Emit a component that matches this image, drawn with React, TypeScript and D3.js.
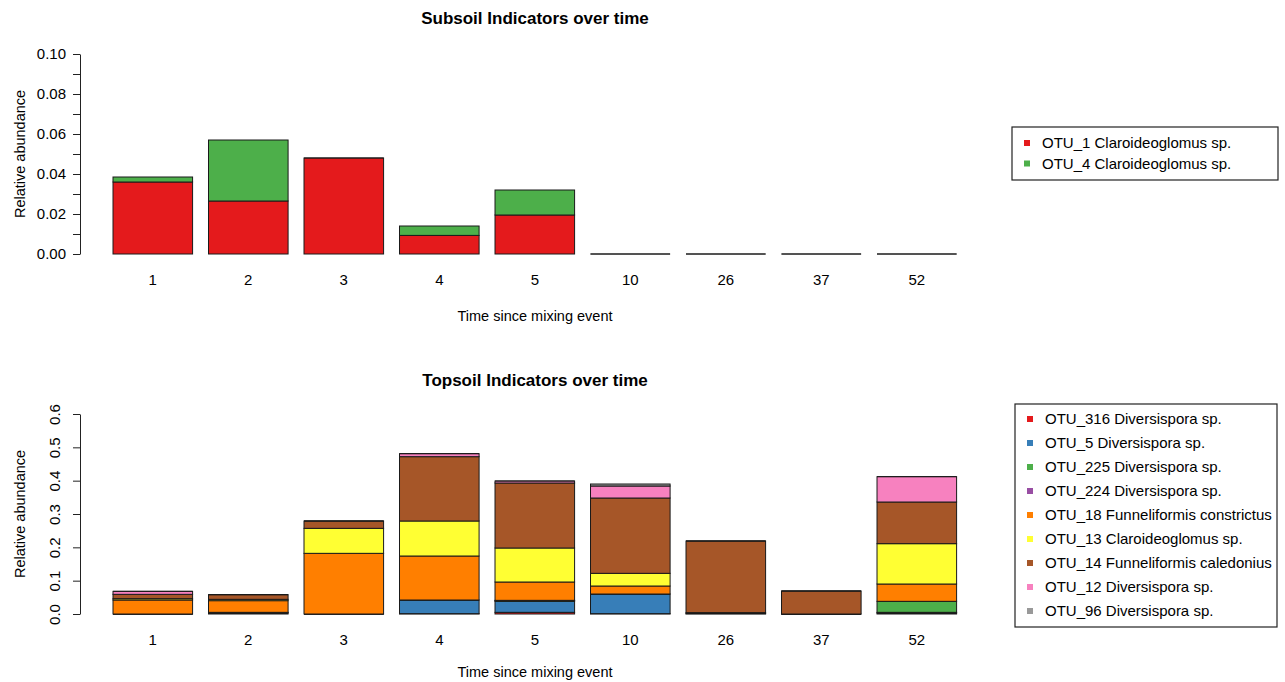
import React, { useEffect, useRef } from "react";
import * as d3 from "d3";

// time points (x categories)
const times = ["1", "2", "3", "4", "5", "10", "26", "37", "52"];

// subsoil indicators
const subsoilNames = ["OTU_1 Claroideoglomus sp.", "OTU_4 Claroideoglomus sp."];
const subsoilOtu1 = [0.036, 0.0265, 0.048, 0.0093, 0.0195, 0, 0, 0, 0];
const subsoilOtu4 = [0.0025, 0.0305, 0, 0.0047, 0.0125, 0, 0, 0, 0];
const subsoilColors = ["#E41A1C", "#4DAF4A"];

// topsoil indicators
const topsoilNames = [
  "OTU_316 Diversispora sp.",
  "OTU_5 Diversispora sp.",
  "OTU_225 Diversispora sp.",
  "OTU_224 Diversispora sp.",
  "OTU_18 Funneliformis constrictus",
  "OTU_13 Claroideoglomus sp.",
  "OTU_14 Funneliformis caledonius",
  "OTU_12 Diversispora sp.",
  "OTU_96 Diversispora sp.",
];
const otu316 = [0, 0.003, 0, 0.001, 0.005, 0.001, 0.001, 0, 0.003];
const otu5 = [0, 0.002, 0, 0.041, 0.033, 0.059, 0.003, 0, 0.002];
const otu225 = [0, 0, 0, 0, 0.002, 0, 0, 0, 0.033];
const otu224 = [0, 0, 0, 0, 0.001, 0, 0, 0, 0];
const otu18 = [0.042, 0.035, 0.182, 0.132, 0.055, 0.024, 0, 0, 0.052];
const otu13 = [0.004, 0.004, 0.075, 0.105, 0.102, 0.038, 0, 0, 0.121];
const otu14 = [0.013, 0.014, 0.022, 0.193, 0.195, 0.226, 0.215, 0.069, 0.125];
const otu12 = [0.009, 0, 0, 0.009, 0.006, 0.036, 0, 0, 0.076];
const otu96 = [0, 0, 0, 0, 0, 0.006, 0, 0, 0];
const topsoilColors = [
  "#E41A1C", "#377EB8", "#4DAF4A", "#984EA3", "#FF7F00",
  "#FFFF33", "#A65628", "#F781BF", "#999999",
];

const FONT = "'Liberation Sans', Arial, Helvetica, sans-serif";

type Panel = {
  title: string;
  series: number[][];
  colors: string[];
  names: string[];
  top: number; // y of max value
  bottom: number; // y of zero
  yMax: number;
  ticks: number[];
  rotateLabels: boolean;
  labelEvery: number;
  titleY: number;
  xLabY: number;
  xTitleY: number;
  legend: { x: number; y: number; w: number; h: number; row0: number; step: number };
};

const drawPanel = (svg: any, p: Panel) => {
  const x = d3
    .scaleBand()
    .domain(times)
    .range([113, 956.6])
    .paddingInner(1 / 6)
    .paddingOuter(0);
  const y = d3.scaleLinear().domain([0, p.yMax]).range([p.bottom, p.top]);

  const g = svg.append("g").style("font-family", FONT);

  // stacked segments, zero-height ones drawn as a border line like R does
  p.series.forEach((vals, s) => {
    vals.forEach((v, i) => {
      let base = 0;
      for (let k = 0; k < s; k++) base += p.series[k][i];
      const x0 = x(times[i]) as number;
      if (v > 0) {
        g.append("rect")
          .attr("x", x0)
          .attr("y", y(base + v))
          .attr("width", x.bandwidth())
          .attr("height", y(base) - y(base + v))
          .attr("fill", p.colors[s])
          .attr("stroke", "#1a1a1a")
          .attr("stroke-width", 1);
      } else {
        g.append("line")
          .attr("x1", x0)
          .attr("x2", x0 + x.bandwidth())
          .attr("y1", y(base))
          .attr("y2", y(base))
          .attr("stroke", "#1a1a1a")
          .attr("stroke-width", 1);
      }
    });
  });

  // y axis
  const ax = g
    .append("g")
    .attr("transform", "translate(80,0)")
    .call(
      d3
        .axisLeft(y)
        .tickValues(p.ticks)
        .tickSize(7)
        .tickSizeOuter(0)
        .tickPadding(7)
        .tickFormat((d: any, i: number) =>
          i % p.labelEvery === 0 ? (p.rotateLabels ? d3.format(".1f")(d) : d3.format(".2f")(d)) : ""
        )
    );
  ax.select(".domain").attr("stroke", "#222");
  ax.selectAll(".tick line").attr("stroke", "#222");
  ax.selectAll("text").style("font-size", "15px").attr("fill", "#000").style("font-family", FONT);
  if (p.rotateLabels) {
    ax.selectAll("text")
      .attr("transform", "rotate(-90)")
      .attr("x", 0)
      .attr("y", -20)
      .attr("dy", 0)
      .attr("text-anchor", "middle");
  }

  // y title
  g.append("text")
    .attr("transform", `translate(25,${(p.top + p.bottom) / 2}) rotate(-90)`)
    .attr("text-anchor", "middle")
    .style("font-size", "14.5px")
    .text("Relative abundance");

  // x labels
  g.selectAll(".xl")
    .data(times)
    .enter()
    .append("text")
    .attr("x", (d: string) => (x(d) as number) + x.bandwidth() / 2)
    .attr("y", p.xLabY)
    .attr("text-anchor", "middle")
    .style("font-size", "15px")
    .text((d: string) => d);

  g.append("text")
    .attr("x", 535)
    .attr("y", p.xTitleY)
    .attr("text-anchor", "middle")
    .style("font-size", "14.5px")
    .text("Time since mixing event");

  // title
  g.append("text")
    .attr("x", 535)
    .attr("y", p.titleY)
    .attr("text-anchor", "middle")
    .style("font-size", "17px")
    .style("font-weight", "bold")
    .text(p.title);

  // legend
  const L = p.legend;
  const lg = g.append("g");
  lg.append("rect")
    .attr("x", L.x)
    .attr("y", L.y)
    .attr("width", L.w)
    .attr("height", L.h)
    .attr("fill", "none")
    .attr("stroke", "#222")
    .attr("stroke-width", 1.2);
  p.names.forEach((n, i) => {
    const cy = L.row0 + i * L.step;
    lg.append("rect")
      .attr("x", L.x + 12)
      .attr("y", cy - 3)
      .attr("width", 6)
      .attr("height", 6)
      .attr("fill", p.colors[i]);
    lg.append("text")
      .attr("x", L.x + 30)
      .attr("y", cy + 5)
      .style("font-size", "15px")
      .text(n);
  });
};

const App = () => {
  const svgRef = useRef<SVGSVGElement>(null);

  useEffect(() => {
    const svg = d3.select(svgRef.current);
    svg.selectAll("*").remove();

    drawPanel(svg, {
      title: "Subsoil Indicators over time",
      series: [subsoilOtu1, subsoilOtu4],
      colors: subsoilColors,
      names: subsoilNames,
      top: 54,
      bottom: 254,
      yMax: 0.1,
      ticks: d3.range(0, 11).map((k) => k / 100),
      rotateLabels: false,
      labelEvery: 2,
      titleY: 24,
      xLabY: 285,
      xTitleY: 321,
      legend: { x: 1012, y: 127, w: 266, h: 53, row0: 143, step: 20.5 },
    });

    drawPanel(svg, {
      title: "Topsoil Indicators over time",
      series: [otu316, otu5, otu225, otu224, otu18, otu13, otu14, otu12, otu96],
      colors: topsoilColors,
      names: topsoilNames,
      top: 414,
      bottom: 614,
      yMax: 0.6,
      ticks: d3.range(0, 7).map((k) => k / 10),
      rotateLabels: true,
      labelEvery: 1,
      titleY: 386,
      xLabY: 645,
      xTitleY: 677,
      legend: { x: 1015, y: 404, w: 262, h: 223, row0: 419, step: 24 },
    });
  }, []);

  return (
    <svg
      ref={svgRef}
      width={1285}
      height={682}
      style={{ position: "absolute", left: 0, top: 0, background: "#fff" }}
    />
  );
};

export default App;
